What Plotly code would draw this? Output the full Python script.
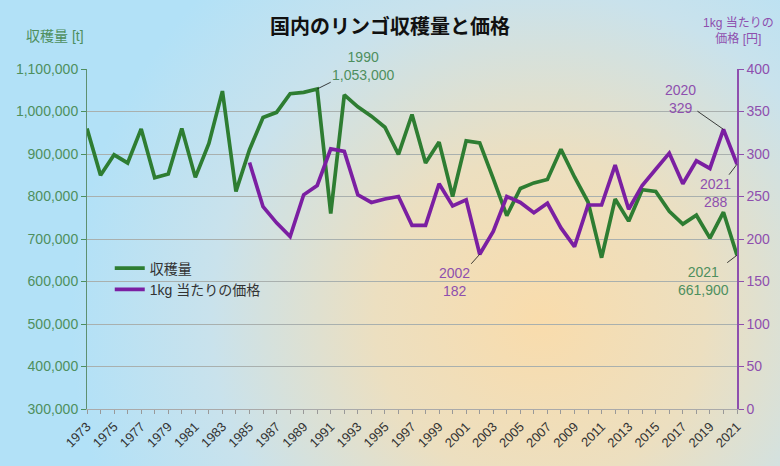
import base64
import plotly.graph_objects as go

years = list(range(1973, 2022))
harvest = [960000, 850000, 898000, 879000, 959000, 844000, 853000, 960000, 845000, 925000,
           1048000, 812000, 910000, 986000, 998000, 1042000, 1045000, 1053000, 760000, 1039000,
           1011000, 989000, 963000, 899000, 993000, 879000, 928000, 800000, 931000, 926000,
           842000, 755000, 819000, 832000, 840000, 911000, 846000, 787000, 656000, 794000,
           742000, 816000, 812000, 765000, 735000, 756000, 702000, 763000, 661900]
price_years = list(range(1985, 2022))
price = [290, 238, 219, 203, 252, 263, 306, 303, 252, 243, 247, 250, 216, 216, 265, 239,
         246, 182, 209, 250, 243, 231, 242, 213, 191, 240, 240, 287, 235, 263, 282, 301,
         265, 292, 283, 329, 288]
xtick_years = list(range(1973, 2022, 2))

GREEN = "#2e7d32"
PURPLE = "#7b1fa2"
GTEXT = "#4e8f5e"
PTEXT = "#8e4fae"
FONT = "Liberation Sans, Noto Sans CJK JP, sans-serif"

svg = """<svg xmlns='http://www.w3.org/2000/svg' width='780' height='466' viewBox='0 0 780 466'>
<defs><radialGradient id='g' gradientUnits='userSpaceOnUse' cx='540' cy='320' r='470'>
<stop offset='0' stop-color='#f9dcac'/><stop offset='0.35' stop-color='#ecdfc0'/>
<stop offset='0.7' stop-color='#c9e2ec'/><stop offset='1' stop-color='#b2e1f7'/>
</radialGradient></defs><rect width='780' height='466' fill='url(#g)'/></svg>"""
src = "data:image/svg+xml;base64," + base64.b64encode(svg.encode()).decode()

L, R, T, B = 87, 43, 69, 57
W, H = 780, 466
pw, ph = W - L - R, H - T - B

fig = go.Figure()
fig.add_trace(go.Scatter(x=years, y=harvest, name="収穫量", mode="lines",
                         line=dict(color=GREEN, width=3.7), yaxis="y"))
fig.add_trace(go.Scatter(x=price_years, y=price, name="1kg 当たりの価格", mode="lines",
                         line=dict(color=PURPLE, width=3.7), yaxis="y2"))

fig.update_layout(
    width=W, height=H,
    margin=dict(l=L, r=R, t=T, b=B, autoexpand=False),
    paper_bgcolor="rgba(0,0,0,0)", plot_bgcolor="rgba(0,0,0,0)",
    font=dict(family=FONT, color="#333"),
    images=[dict(source=src, xref="paper", yref="paper", x=-L / pw, y=1 + T / ph,
                 sizex=W / pw, sizey=H / ph, sizing="stretch", layer="below",
                 xanchor="left", yanchor="top")],
    title=dict(text="<b>国内のリンゴ収穫量と価格</b>", x=0.5, xanchor="center",
               y=1 - 27 / H, yanchor="middle", font=dict(size=20, color="#111", family=FONT)),
    showlegend=True,
    legend=dict(x=0.035, y=0.46, xanchor="left", yanchor="top", bgcolor="rgba(0,0,0,0)",
                font=dict(size=14, color="#333"), itemwidth=30, tracegroupgap=4),
    xaxis=dict(range=[1973, 2021], tickvals=xtick_years, ticktext=[str(v) for v in xtick_years],
               tickangle=-45, ticks="outside", ticklen=4, tickcolor="#999",
               minor=dict(dtick=1, ticks="outside", ticklen=4, tickcolor="#999"),
               showline=True, linecolor="#aaa", showgrid=False, zeroline=False,
               tickfont=dict(size=13, color="#333")),
    yaxis=dict(range=[300000, 1100000], dtick=100000, tickformat=",", ticks="outside",
               ticklen=5, tickcolor=GTEXT, showline=True, linecolor="#5e9070",
               gridcolor="#a9b0ae", gridwidth=1, zeroline=False,
               tickfont=dict(size=14, color=GTEXT)),
    yaxis2=dict(range=[0, 400], dtick=50, overlaying="y", side="right", anchor="x",
                ticks="outside", ticklen=5, tickcolor=PTEXT, showline=True, linecolor=PTEXT,
                linewidth=1.5, showgrid=False, zeroline=False, tickfont=dict(size=14, color=PTEXT)),
)

ann_font = dict(size=14, family=FONT)
anns = [
    dict(x=1990, y=1053000, yref="y", text="1990<br>1,053,000", ax=46, ay=-23, color=GTEXT),
    dict(x=2002, y=182, yref="y2", text="2002<br>182", ax=-25, ay=28, color=PTEXT),
    dict(x=2020, y=329, yref="y2", text="2020<br>329", ax=-43, ay=-30, color=PTEXT),
    dict(x=2021, y=288, yref="y2", text="2021<br>288", ax=-22, ay=29, color=PTEXT),
    dict(x=2021, y=661900, yref="y", text="2021<br>661,900", ax=-34, ay=26, color=GTEXT),
]
for a in anns:
    fig.add_annotation(x=a["x"], y=a["y"], xref="x", yref=a["yref"], text=a["text"],
                       ax=a["ax"], ay=a["ay"], showarrow=True, arrowhead=0, arrowwidth=0.8,
                       arrowcolor="#111", font=dict(ann_font, color=a["color"]))

fig.add_annotation(text="収穫量 [t]", xref="paper", yref="paper", x=(55 - L) / pw,
                   y=1 + (T - 36) / ph, xanchor="center", yanchor="middle", showarrow=False,
                   font=dict(size=14, color=GTEXT, family=FONT))
fig.add_annotation(text="1kg 当たりの<br>価格 [円]", xref="paper", yref="paper",
                   x=(738 - L) / pw, y=1 + (T - 31) / ph, xanchor="center", yanchor="middle",
                   showarrow=False, font=dict(size=12, color=PTEXT, family=FONT))

fig.write_html("out.html", config={"displayModeBar": False},
               post_script="document.body.style.margin='0';")
